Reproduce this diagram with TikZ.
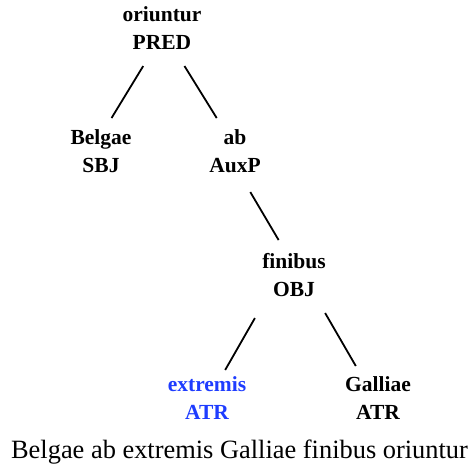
\documentclass[tikz,border=0pt]{standalone}
\usepackage{fontspec}
\setmainfont{Liberation Serif}
\usetikzlibrary{calc}
\definecolor{hiblue}{RGB}{30,60,255}
\tikzset{
  word/.style={align=center, inner sep=0pt, font=\bfseries\fontsize{21.5}{28}\selectfont},
  edge/.style={line width=1.8pt, draw=black}
}
\begin{document}
\begin{tikzpicture}[x=1pt,y=-1pt]
\useasboundingbox (0,0) rectangle (473,469);
\node[word] (r) at (162,28) {oriuntur\\PRED};
\node[word] (b) at (101,151.5) {Belgae\\SBJ};
\node[word] (a) at (235,151.5) {ab\\AuxP};
\node[word] (f) at (294,275.5) {finibus\\OBJ};
\node[word, text=hiblue] (e) at (207,398.5) {extremis\\ATR};
\node[word] (g) at (378,398.5) {Galliae\\ATR};
\node[anchor=base, inner sep=0pt, font=\fontsize{26.4}{30}\selectfont] (s) at (239.5,458) {Belgae ab extremis Galliae finibus oriuntur};
\draw[edge] ($(r)!0.308!(b)$) -- ($(r)!0.729!(b)+(-6,0)$);
\draw[edge] ($(r)!0.308!(a)$) -- ($(r)!0.729!(a)+(1.5,0)$);
\draw[edge] ($(a)!0.327!(f)+(-4,0)$) -- ($(a)!0.714!(f)+(1.5,0)$);
\draw[edge] ($(f)!0.346!(e)+(-9,0)$) -- ($(f)!0.768!(e)+(-2,0)$);
\draw[edge] ($(f)!0.305!(g)+(5.5,0)$) -- ($(f)!0.736!(g)$);
\end{tikzpicture}
\end{document}
